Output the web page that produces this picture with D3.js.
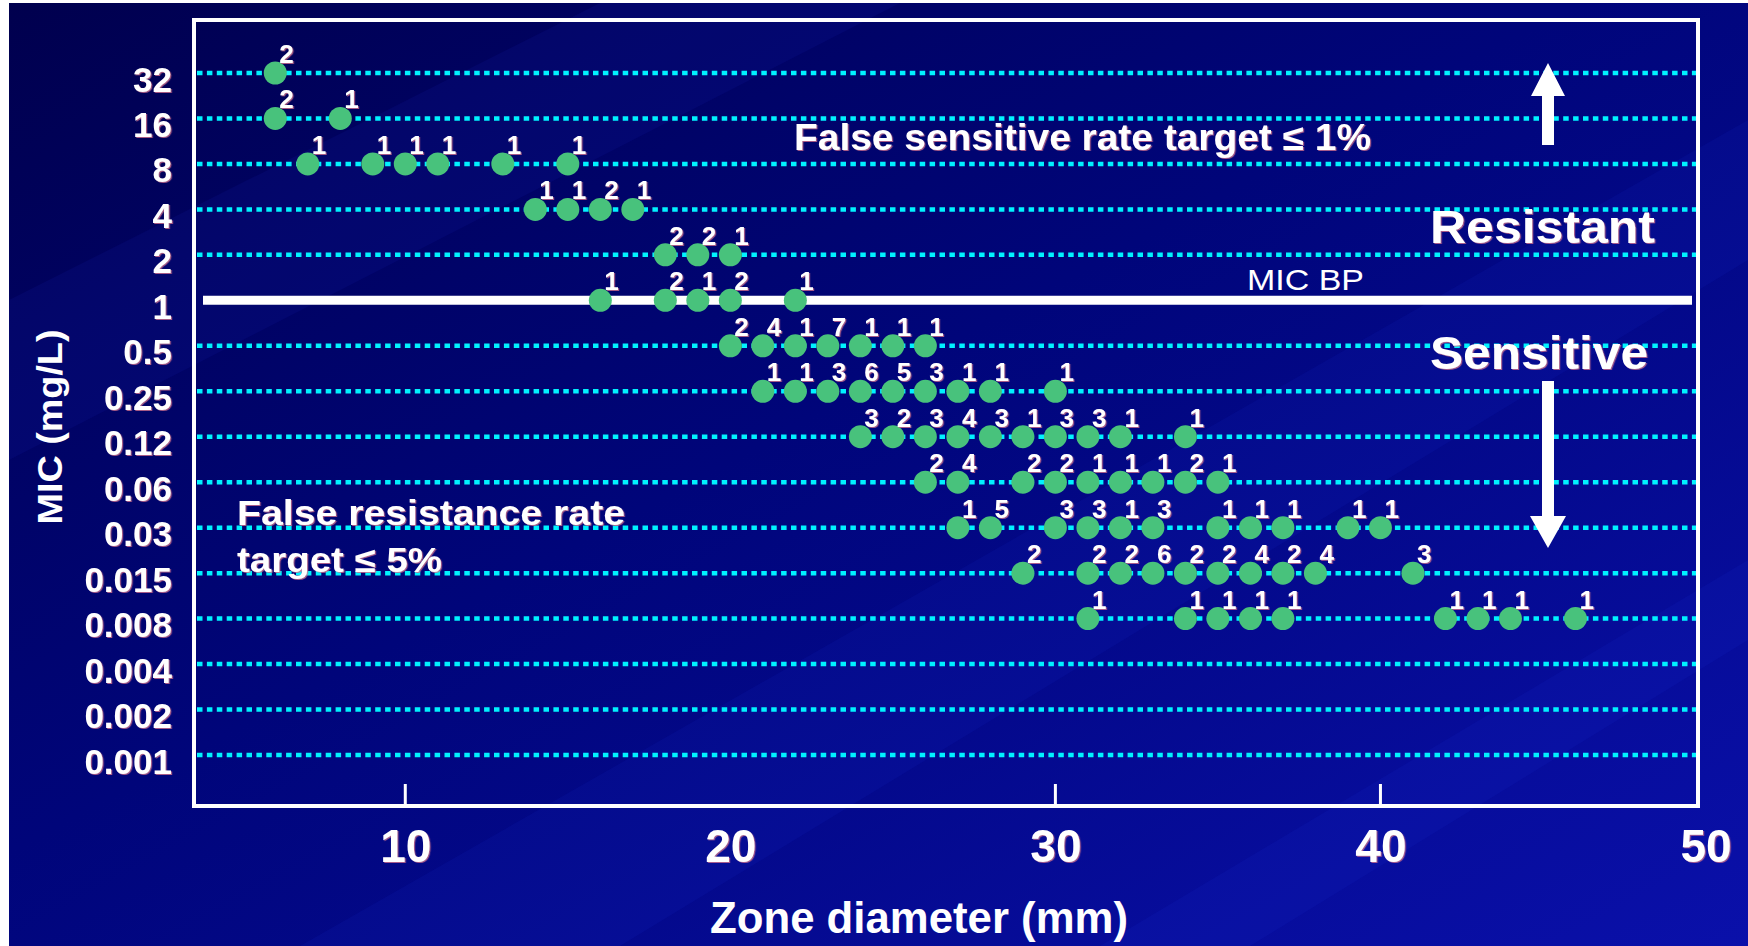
<!DOCTYPE html>
<html lang="en">
<head>
<meta charset="UTF-8">
<title>MIC vs zone diameter</title>
<script src="https://cdn.jsdelivr.net/npm/d3@7"></script>
<style>
  html, body { margin: 0; padding: 0; background: #fff; overflow: hidden; }
  svg { display: block; }
  text { font-family: "Liberation Sans", Arial, sans-serif; font-weight: bold; fill: #fff; }
</style>
</head>
<body>
<svg id="chart" width="1748" height="946"></svg>
<script>
"use strict";

// MIC rows, top to bottom
var micLabels = ["32", "16", "8", "4", "2", "1", "0.5", "0.25", "0.12", "0.06",
                 "0.03", "0.015", "0.008", "0.004", "0.002", "0.001"];
var breakpoint = "1";
var zoneTicks = [10, 20, 30, 40, 50];
var tickMarks = [10, 30, 40];

// [zone diameter (mm), number of isolates] for each MIC row
var mic32    = [[6, 2]];
var mic16    = [[6, 2], [8, 1]];
var mic8     = [[7, 1], [9, 1], [10, 1], [11, 1], [13, 1], [15, 1]];
var mic4     = [[14, 1], [15, 1], [16, 2], [17, 1]];
var mic2     = [[18, 2], [19, 2], [20, 1]];
var mic1     = [[16, 1], [18, 2], [19, 1], [20, 2], [22, 1]];
var mic05    = [[20, 2], [21, 4], [22, 1], [23, 7], [24, 1], [25, 1], [26, 1]];
var mic025   = [[21, 1], [22, 1], [23, 3], [24, 6], [25, 5], [26, 3], [27, 1], [28, 1], [30, 1]];
var mic012   = [[24, 3], [25, 2], [26, 3], [27, 4], [28, 3], [29, 1], [30, 3], [31, 3], [32, 1], [34, 1]];
var mic006   = [[26, 2], [27, 4], [29, 2], [30, 2], [31, 1], [32, 1], [33, 1], [34, 2], [35, 1]];
var mic003   = [[27, 1], [28, 5], [30, 3], [31, 3], [32, 1], [33, 3], [35, 1], [36, 1], [37, 1], [39, 1], [40, 1]];
var mic0015  = [[29, 2], [31, 2], [32, 2], [33, 6], [34, 2], [35, 2], [36, 4], [37, 2], [38, 4], [41, 3]];
var mic0008  = [[31, 1], [34, 1], [35, 1], [36, 1], [37, 1], [42, 1], [43, 1], [44, 1], [46, 1]];

var rows = {
    "32": mic32, "16": mic16, "8": mic8, "4": mic4, "2": mic2, "1": mic1,
    "0.5": mic05, "0.25": mic025, "0.12": mic012, "0.06": mic006,
    "0.03": mic003, "0.015": mic0015, "0.008": mic0008
};

var points = [];
Object.keys(rows).forEach(function (mic) {
    rows[mic].forEach(function (d) {
        points.push({ mic: mic, zone: d[0], n: d[1] });
    });
});

var frame = { left: 194, top: 20, right: 1698, bottom: 806 };

var svg = d3.select("#chart");

// slide background
var defs = svg.append("defs");
var grad = defs.append("linearGradient").attr("id", "bg")
    .attr("x1", 0).attr("y1", 0).attr("x2", 1).attr("y2", 1);
grad.append("stop").attr("offset", 0).attr("stop-color", "#00004e");
grad.append("stop").attr("offset", 0.45).attr("stop-color", "#00057a");
grad.append("stop").attr("offset", 1).attr("stop-color", "#0a10aa");

var shadow = defs.append("filter").attr("id", "txtShadow")
    .attr("x", "-5%").attr("y", "-10%").attr("width", "110%").attr("height", "130%");
shadow.append("feDropShadow").attr("dx", 1.2).attr("dy", 1).attr("stdDeviation", 0.6)
    .attr("flood-color", "#d0708c").attr("flood-opacity", 0.8);

svg.append("rect").attr("x", 9).attr("y", 3).attr("width", 1739).attr("height", 943)
    .attr("fill", "url(#bg)");

// faint diagonal streaks
var streaks = [
    [[9, 300], [600, 3], [900, 3], [9, 460]],
    [[300, 946], [1748, 120], [1748, 260], [620, 946]],
    [[1100, 946], [1748, 560], [1748, 640], [1250, 946]]
];
svg.append("g").selectAll("path").data(streaks).join("path")
    .attr("d", function (d) { return "M" + d.join("L") + "Z"; })
    .attr("fill", "#3040ff").attr("opacity", 0.07);

var x = d3.scaleLinear().domain([3.5, 49.8]).range([frame.left, frame.right + 1]);
var y = d3.scalePoint().domain(micLabels).range([73, 755]);

// dotted guide lines
svg.append("g").selectAll("line")
    .data(micLabels.filter(function (d) { return d !== breakpoint; }))
    .join("line")
    .attr("x1", frame.left + 3).attr("x2", frame.right - 2)
    .attr("y1", function (d) { return y(d); }).attr("y2", function (d) { return y(d); })
    .attr("stroke", "#00f2ff").attr("stroke-width", 4.5)
    .attr("stroke-dasharray", "5.5 4.4");

// MIC breakpoint
svg.append("line")
    .attr("x1", frame.left + 9).attr("x2", frame.right - 6)
    .attr("y1", y(breakpoint)).attr("y2", y(breakpoint))
    .attr("stroke", "#fff").attr("stroke-width", 9);

// frame and tick marks
svg.append("rect")
    .attr("x", frame.left).attr("y", frame.top)
    .attr("width", frame.right - frame.left).attr("height", frame.bottom - frame.top)
    .attr("fill", "none").attr("stroke", "#fff").attr("stroke-width", 4);

svg.append("g").selectAll("line").data(tickMarks).join("line")
    .attr("x1", function (d) { return x(d); }).attr("x2", function (d) { return x(d); })
    .attr("y1", frame.bottom).attr("y2", frame.bottom - 22)
    .attr("stroke", "#fff").attr("stroke-width", 3);

// axes (labels only)
var yAxis = svg.append("g")
    .attr("transform", "translate(172,0)")
    .call(d3.axisLeft(y).tickSize(0).tickPadding(0));
yAxis.select(".domain").remove();
yAxis.selectAll("text")
    .attr("dy", null).attr("y", 18)
    .attr("fill", "#fff").style("font-size", "35px")
    .attr("filter", "url(#txtShadow)");

var xAxis = svg.append("g")
    .attr("transform", "translate(0," + frame.bottom + ")")
    .call(d3.axisBottom(x).tickValues(zoneTicks).tickSize(0).tickFormat(d3.format("d")));
xAxis.select(".domain").remove();
xAxis.selectAll("text")
    .attr("dy", null).attr("y", 56)
    .attr("fill", "#fff").style("font-size", "46px")
    .attr("filter", "url(#txtShadow)");

svg.append("text")
    .attr("transform", "translate(62,427) rotate(-90)")
    .attr("text-anchor", "middle")
    .attr("textLength", 195).attr("lengthAdjust", "spacingAndGlyphs")
    .style("font-size", "35px")
    .text("MIC (mg/L)");

svg.append("text")
    .attr("x", 919).attr("y", 933)
    .attr("text-anchor", "middle")
    .attr("textLength", 418).attr("lengthAdjust", "spacingAndGlyphs")
    .style("font-size", "44px")
    .text("Zone diameter (mm)");

// isolates
var dots = svg.append("g");
dots.selectAll("circle").data(points).join("circle")
    .attr("cx", function (d) { return x(d.zone); })
    .attr("cy", function (d) { return y(d.mic); })
    .attr("r", 11.5)
    .attr("fill", "#48c27c");

dots.selectAll("text").data(points).join("text")
    .attr("x", function (d) { return x(d.zone) + 4; })
    .attr("y", function (d) { return y(d.mic) - 10; })
    .style("font-size", "26px")
    .attr("filter", "url(#txtShadow)")
    .text(function (d) { return d.n; });

// annotations
var notes = [
    { text: "False sensitive rate target \u2264 1%", x: 794, y: 150, size: 36, len: 577 },
    { text: "Resistant", x: 1430, y: 243, size: 47, len: 225 },
    { text: "Sensitive", x: 1430, y: 369, size: 47, len: 218 },
    { text: "False resistance rate", x: 237, y: 525, size: 35, len: 388 },
    { text: "target \u2264 5%", x: 237, y: 572, size: 35, len: 205 }
];
svg.append("g").selectAll("text").data(notes).join("text")
    .attr("x", function (d) { return d.x; })
    .attr("y", function (d) { return d.y; })
    .attr("textLength", function (d) { return d.len; })
    .attr("lengthAdjust", "spacingAndGlyphs")
    .style("font-size", function (d) { return d.size + "px"; })
    .attr("filter", "url(#txtShadow)")
    .text(function (d) { return d.text; });

svg.append("text")
    .attr("x", 1247).attr("y", 290)
    .attr("textLength", 117).attr("lengthAdjust", "spacingAndGlyphs")
    .style("font-size", "30px").style("font-weight", "normal")
    .text("MIC BP");

// arrows
svg.append("path")
    .attr("d", "M1542,145 L1542,96 L1531,96 L1548,63 L1565,96 L1554,96 L1554,145 Z")
    .attr("fill", "#fff");
svg.append("path")
    .attr("d", "M1542,381 L1542,516 L1530,516 L1548,548 L1566,516 L1554,516 L1554,381 Z")
    .attr("fill", "#fff");
</script>
</body>
</html>
